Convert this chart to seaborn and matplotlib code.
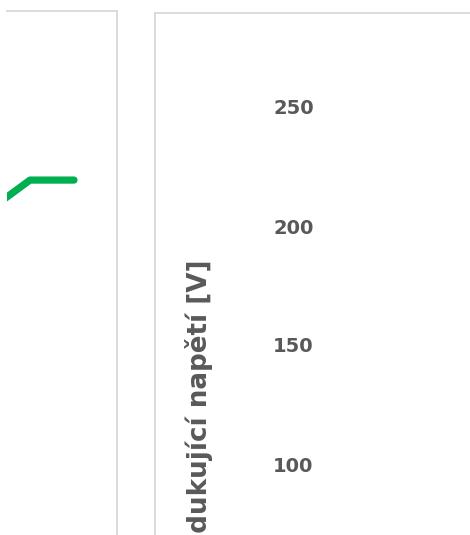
import numpy as np
import pandas as pd
import matplotlib
matplotlib.use("Agg")
import matplotlib.pyplot as plt
import seaborn as sns

# left chart (only its tail end is in view)
t_left = [-0.5, 2.3, 6.7]
u_left = [191.4, 203.2, 203.2]

# right chart, y axis (only the upper ticks are in view)
u_range = [0, 250]
u_ticks = [100, 150, 200, 250]
u_label = "Indukující napětí [V]"

sns.set_style("white")
plt.rcParams['font.family'] = ['DejaVu Sans']

W, H = 470, 535
fig = plt.figure(figsize=(W / 100, H / 100), dpi=100)

def box(x0, y0, x1, y1):
    # pixel box, origin top left -> figure fraction
    return [x0 / W, 1 - y1 / H, (x1 - x0) / W, (y1 - y0) / H]

border = '#d9d9d9'
grey = '#595959'

# left chart
ax1 = fig.add_axes(box(7, 11, 117, 535))
df = pd.DataFrame({'t': t_left, 'u': u_left})
sns.lineplot(data=df, x='t', y='u', ax=ax1, color='#00b050', lw=5.2,
             solid_capstyle='round', solid_joinstyle='round')
ax1.set_xlim(0, 11)
ax1.set_ylim(0, 300)
ax1.set_xticks([])
ax1.set_yticks([])
ax1.set_xlabel('')
ax1.set_ylabel('')
for s in ['left', 'bottom']:
    ax1.spines[s].set_visible(False)
for s in ['top', 'right']:
    ax1.spines[s].set_color(border)
    ax1.spines[s].set_linewidth(1.3)

# right chart frame
ax2 = fig.add_axes(box(155, 12.5, 560, 620))
ax2.set_xticks([])
ax2.set_yticks([])
for s in ['right', 'bottom']:
    ax2.spines[s].set_visible(False)
for s in ['top', 'left']:
    ax2.spines[s].set_color(border)
    ax2.spines[s].set_linewidth(1.3)

# right chart plot area
ax3 = fig.add_axes(box(322, 107, 520, 702))
ax3.patch.set_alpha(0)
ax3.set_ylim(*u_range)
ax3.set_yticks(u_ticks)
ax3.set_yticklabels([str(v) for v in u_ticks], fontsize=14, fontweight='bold', color=grey)
ax3.set_xticks([])
ax3.tick_params(axis='y', length=0, pad=6)
sns.despine(ax=ax3, left=True, bottom=True)
ax3.set_ylabel(u_label, fontsize=18.8, fontweight='bold', color=grey)
ax3.yaxis.set_label_coords(-0.55, 0.49)

fig.savefig('out.png', dpi=100)
